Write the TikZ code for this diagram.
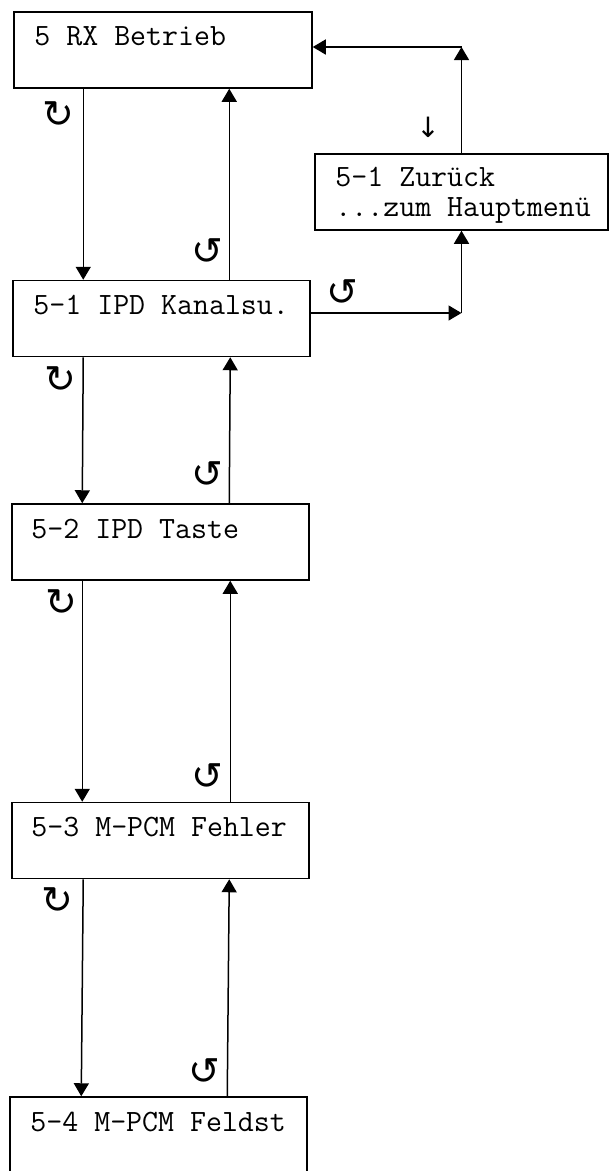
\documentclass[tikz,border=0pt]{standalone}
\usepackage{fontspec}
\newfontfamily\symfont{DejaVu Sans}
\usetikzlibrary{arrows.meta,calc}
\tikzset{
  box/.style={draw, line width=1.5pt, rectangle, minimum width=297pt, minimum height=76pt, inner sep=0pt},
  txt/.style={anchor=base west, inner sep=0pt, font=\ttfamily\fontsize{31}{31}\selectfont, align=left},
  arr/.style={line width=1.5pt, -{Triangle[length=13pt,width=15pt]}},
  sym/.style={inner sep=0pt, font=\symfont\fontsize{38}{38}\selectfont},
  smallarr/.style={inner sep=0pt, font=\symfont\fontsize{28}{28}\selectfont}
}
\begin{document}
\begin{tikzpicture}[x=1pt,y=-1pt]
\useasboundingbox (0,0) rectangle (610,1171);
% boxes
\node[box, minimum width=298pt] (b1) at (163,50) {};
\node[box] (b2) at (161.5,318.5) {};
\node[box] (b3) at (160.5,542) {};
\node[box] (b4) at (160.5,840.5) {};
\node[box] (b5) at (158.5,1135) {};
\node[box, minimum width=293pt] (zb) at (461.5,192) {};
% texts
\node[txt] (t1) at ($(b1.north west)+(21,34)$) {5 RX Betrieb};
\node[txt] (t2) at ($(b2.north west)+(21,35)$) {5-1 IPD Kanalsu.};
\node[txt] (t3) at ($(b3.north west)+(20,35)$) {5-2 IPD Taste};
\node[txt] (t4) at ($(b4.north west)+(20,35)$) {5-3 M-PCM Fehler};
\node[txt] (t5) at ($(b5.north west)+(21,35)$) {5-4 M-PCM Feldst};
\node[txt] (tz1) at ($(zb.north west)+(21,33)$) {5-1 Zurück};
\node[txt] (tz2) at ($(zb.north west)+(21,63)$) {...zum Hauptmenü};
% vertical connectors
\draw[arr] ([xshift=70]b1.south west) -- ([xshift=71]b2.north west);
\draw[arr] ([xshift=217]b2.north west) -- ([xshift=216]b1.south west);
\draw[arr] ([xshift=71]b2.south west) -- ([xshift=71]b3.north west);
\draw[arr] ([xshift=218]b3.north west) -- ([xshift=218]b2.south west);
\draw[arr] ([xshift=71]b3.south west) -- ([xshift=71]b4.north west);
\draw[arr] ([xshift=219]b4.north west) -- ([xshift=219]b3.south west);
\draw[arr] ([xshift=72]b4.south west) -- ([xshift=72]b5.north west);
\draw[arr] ([xshift=218]b5.north west) -- ([xshift=218]b4.south west);
% return path
\coordinate (c1) at (zb.north |- 0,47);
\coordinate (c2) at (zb.south |- 0,313);
\draw[arr] (zb.north) -- (c1);
\draw[arr] (c1) -- (c1 -| b1.east);
\draw[arr] (c2 -| b2.east) -- (c2);
\draw[arr] (c2) -- (zb.south);
% symbols
\node[sym] (s1) at (58,115) {↻};
\node[sym] (s2) at (60,380) {↻};
\node[sym] (s3) at (61,603) {↻};
\node[sym] (s4) at (57,901) {↻};
\node[sym] (r1) at (207,252) {↺};
\node[sym] (r2) at (207,475) {↺};
\node[sym] (r3) at (207,777) {↺};
\node[sym] (r4) at (204,1072) {↺};
\node[sym] (r5) at (342,293) {↺};
\node[smallarr] (d1) at (428,127) {↓};
\end{tikzpicture}
\end{document}
